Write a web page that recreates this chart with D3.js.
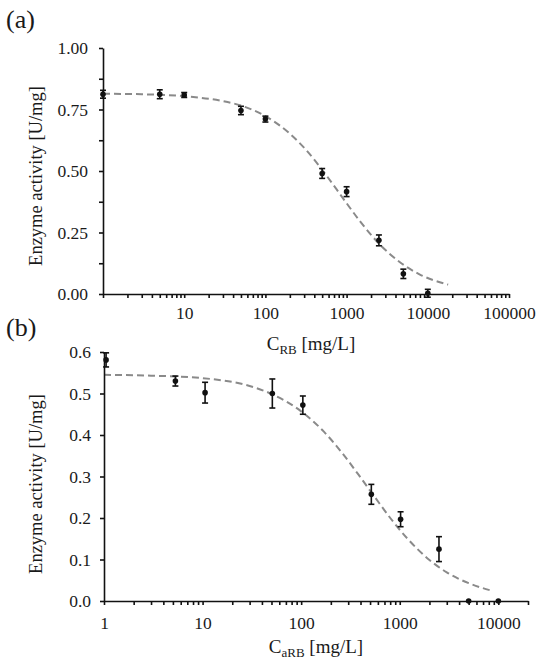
<!DOCTYPE html>
<html>
<head>
<meta charset="utf-8">
<script src="https://cdn.jsdelivr.net/npm/d3@7"></script>
<style>
  html, body { margin: 0; padding: 0; background: #fff; }
  svg text { font-family: "Liberation Serif", "Tinos", "Times New Roman", "DejaVu Serif", "Noto Serif", serif; fill: #1a1a1a; }
</style>
</head>
<body>
<svg id="chart" width="550" height="666"></svg>
<script>
// ---- Panel (a) data ----
const concA = [1, 5, 10, 50, 100, 500, 1000, 2500, 5000, 10000];
const actA  = [0.812, 0.812, 0.809, 0.746, 0.711, 0.490, 0.416, 0.218, 0.082, 0.003];
const errA  = [0.016, 0.018, 0.010, 0.017, 0.012, 0.020, 0.020, 0.022, 0.019, 0.016];
const fitXA = [1, 3, 10, 30, 50, 100, 200, 320, 500, 750, 1000, 1500, 2500, 4500, 8000, 17800];
const fitYA = [0.814, 0.812, 0.804, 0.784, 0.766, 0.723, 0.652, 0.584, 0.505, 0.426, 0.369, 0.291, 0.205, 0.130, 0.079, 0.038];
const yTicksA = [0, 0.125, 0.25, 0.375, 0.5, 0.625, 0.75, 0.875, 1];
const yLabelsA = [0, 0.25, 0.5, 0.75, 1];
const xDecadesA = [1, 10, 100, 1000, 10000, 100000];
const xLabelsA = [10, 100, 1000, 10000, 100000];

// ---- Panel (b) data ----
const concB = [1.05, 5.3, 10.6, 51, 104, 515, 1020, 2500, 5000, 10000];
const actB  = [0.581, 0.530, 0.502, 0.500, 0.472, 0.257, 0.197, 0.125, 0.0, 0.0];
const errB  = [0.017, 0.012, 0.025, 0.035, 0.022, 0.024, 0.018, 0.030, 0, 0];
const fitXB = [1, 3, 10, 30, 50, 100, 170, 250, 380, 560, 820, 1200, 2000, 3000, 5000, 8500];
const fitYB = [0.545, 0.543, 0.537, 0.518, 0.499, 0.457, 0.408, 0.362, 0.305, 0.250, 0.197, 0.150, 0.099, 0.069, 0.043, 0.025];
const yTicksB = [0, 0.1, 0.2, 0.3, 0.4, 0.5, 0.6];
const xDecadesB = [1, 10, 100, 1000, 10000];
const xLabelsB = [1, 10, 100, 1000, 10000];

const FONT = '"Liberation Serif", "Tinos", "Times New Roman", "DejaVu Serif", "Noto Serif", serif';
const svg = d3.select("#chart");

function minorTicks(decades, extra) {
  const out = [];
  decades.forEach((d, i) => {
    out.push(d);
    if (i < decades.length - 1) for (let k = 2; k <= 9; k++) out.push(d * k);
  });
  return out.concat(extra || []);
}

function panel(opt) {
  const g = svg.append("g");
  const x = d3.scaleLog().domain(opt.xDomain).range(opt.xRange);
  const y = d3.scaleLinear().domain(opt.yDomain).range(opt.yRange);

  // fitted dashed curve
  const line = d3.line().x(d => x(d[0])).y(d => y(d[1])).curve(d3.curveMonotoneX);
  g.append("path")
    .datum(opt.fitX.map((v, i) => [v, opt.fitY[i]]))
    .attr("d", line)
    .attr("fill", "none")
    .attr("stroke", "#8a8a8a")
    .attr("stroke-width", 2)
    .attr("stroke-dasharray", "7,4");

  // x axis
  const xAxis = d3.axisBottom(x)
    .tickValues(minorTicks(opt.xDecades, opt.xExtra))
    .tickSizeInner(4).tickSizeOuter(0).tickPadding(opt.xPad)
    .tickFormat(d => opt.xLabels.includes(d) ? String(d) : "");
  const xg = g.append("g").attr("transform", `translate(0,${opt.yRange[0]})`).call(xAxis)
    .attr("font-family", FONT);
  xg.selectAll("path,line").attr("stroke", "#111").attr("stroke-width", 1.6);
  xg.selectAll("text").attr("font-size", 17.5).attr("fill", "#1a1a1a");

  // y axis
  const yAxis = d3.axisLeft(y)
    .tickValues(opt.yTicks)
    .tickSizeInner(4).tickSizeOuter(0).tickPadding(opt.yPad)
    .tickFormat(d => opt.yLabels.some(v => Math.abs(v - d) < 1e-9) ? d3.format(opt.yFmt)(d) : "");
  const yg = g.append("g").attr("transform", `translate(${opt.xRange[0]},0)`).call(yAxis)
    .attr("font-family", FONT);
  yg.selectAll("path,line").attr("stroke", "#111").attr("stroke-width", 1.6);
  yg.selectAll("text").attr("font-size", 17.5).attr("fill", "#1a1a1a");

  // error bars
  const pts = opt.conc.map((c, i) => ({ c, v: opt.act[i], e: opt.err[i] }));
  const eg = g.append("g").attr("stroke", "#111").attr("stroke-width", 1.6);
  pts.filter(p => p.e > 0).forEach(p => {
    const cx = x(p.c);
    eg.append("line").attr("x1", cx).attr("x2", cx).attr("y1", y(p.v - p.e)).attr("y2", y(p.v + p.e));
    eg.append("line").attr("x1", cx - 3).attr("x2", cx + 3).attr("y1", y(p.v - p.e)).attr("y2", y(p.v - p.e));
    eg.append("line").attr("x1", cx - 3).attr("x2", cx + 3).attr("y1", y(p.v + p.e)).attr("y2", y(p.v + p.e));
  });
  g.append("g").selectAll("circle").data(pts).join("circle")
    .attr("cx", d => x(d.c)).attr("cy", d => y(d.v)).attr("r", 2.8).attr("fill", "#111");

  // y title
  g.append("text")
    .attr("transform", `translate(${opt.yTitleX},${opt.yTitleY}) rotate(-90)`)
    .attr("text-anchor", "middle").attr("font-size", 18.5).attr("font-family", FONT)
    .text("Enzyme activity [U/mg]");

  // x title with subscript
  const t = g.append("text").attr("x", opt.xTitleX).attr("y", opt.xTitleY)
    .attr("text-anchor", "middle").attr("font-size", 19).attr("font-family", FONT);
  t.append("tspan").text("C");
  t.append("tspan").attr("font-size", 13).attr("dy", 4).text(opt.sub);
  t.append("tspan").attr("dy", -4).text(" [mg/L]");

  // panel label
  g.append("text").attr("x", 6).attr("y", opt.labelY).attr("font-size", 26)
    .attr("font-family", FONT).text(opt.label);
}

panel({
  conc: concA, act: actA, err: errA, fitX: fitXA, fitY: fitYA,
  xDomain: [1, 100000], xRange: [103, 509], yDomain: [0, 1], yRange: [294, 48],
  xDecades: xDecadesA, xExtra: [], xLabels: xLabelsA, yTicks: yTicksA, yLabels: yLabelsA, yFmt: ".2f",
  xPad: 9, yPad: 11, yTitleX: 42, yTitleY: 176, xTitleX: 311, xTitleY: 350,
  sub: "RB", label: "(a)", labelY: 28
});

panel({
  conc: concB, act: actB, err: errB, fitX: fitXB, fitY: fitYB,
  xDomain: [1, 20000], xRange: [104, 528], yDomain: [0, 0.6], yRange: [601, 352],
  xDecades: xDecadesB, xExtra: [20000], xLabels: xLabelsB, yTicks: yTicksB, yLabels: yTicksB, yFmt: ".1f",
  xPad: 12, yPad: 9, yTitleX: 42, yTitleY: 484, xTitleX: 316, xTitleY: 653,
  sub: "aRB", label: "(b)", labelY: 336
});
</script>
</body>
</html>
